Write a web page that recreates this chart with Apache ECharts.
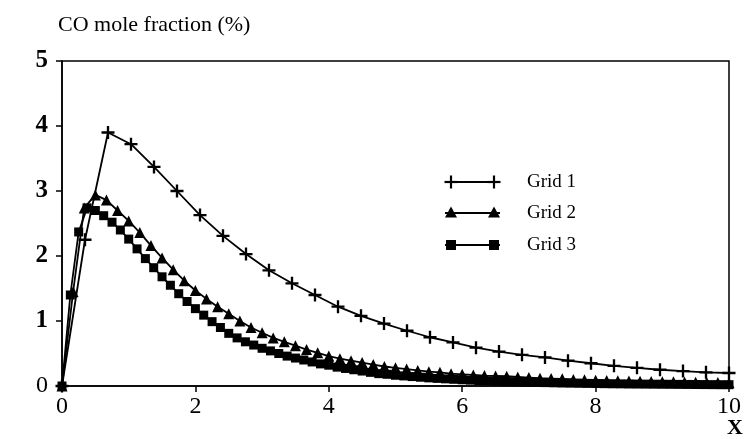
<!DOCTYPE html>
<html>
<head>
<meta charset="utf-8">
<script src="https://cdn.jsdelivr.net/npm/echarts@6/dist/echarts.min.js"></script>
<style>
html,body{margin:0;padding:0;background:#fff;}
#chart{width:744px;height:439px;}
</style>
</head>
<body>
<div id="chart"></div>
<script>
// ---- data ----
const seriesNames = ['Grid 1', 'Grid 2', 'Grid 3'];
const grid1Step = 10 / 29;
const grid2Step = 10 / 60;
const grid3Step = 10 / 80;
const grid1Values = [0, 2.25, 3.90, 3.72, 3.37, 3.00, 2.63, 2.31, 2.03, 1.78, 1.58, 1.40, 1.22, 1.08, 0.96,
  0.85, 0.75, 0.67, 0.59, 0.53, 0.48, 0.44, 0.39, 0.35, 0.31, 0.28, 0.25, 0.23, 0.21, 0.20];
const grid2Values = [0, 1.45, 2.74, 2.94, 2.86, 2.70, 2.54, 2.36, 2.16, 1.97, 1.79, 1.62, 1.47, 1.34, 1.22,
  1.11, 1.00, 0.90, 0.82, 0.74, 0.68, 0.62, 0.56, 0.51, 0.46, 0.42, 0.39, 0.36, 0.33, 0.30,
  0.28, 0.26, 0.24, 0.22, 0.21, 0.19, 0.18, 0.17, 0.16, 0.155, 0.15, 0.14, 0.13, 0.12, 0.115,
  0.11, 0.10, 0.095, 0.09, 0.085, 0.08, 0.077, 0.073, 0.07, 0.067, 0.064, 0.061, 0.058, 0.055, 0.052, 0.05];
const grid3Values = [0, 1.40, 2.37, 2.74, 2.70, 2.62, 2.52, 2.40, 2.26, 2.11, 1.96, 1.82, 1.68, 1.55, 1.42, 1.30, 1.19,
  1.09, 0.99, 0.90, 0.81, 0.74, 0.68, 0.63, 0.58, 0.54, 0.50, 0.46, 0.43, 0.40, 0.37, 0.34, 0.32,
  0.29, 0.27, 0.25, 0.23, 0.21, 0.19, 0.18, 0.165,
  0.155, 0.145, 0.135, 0.125, 0.117, 0.11, 0.103, 0.096, 0.09, 0.085, 0.08, 0.075, 0.07, 0.066, 0.062, 0.058,
  0.055, 0.052, 0.049, 0.046, 0.044, 0.042, 0.040, 0.038, 0.036, 0.034, 0.033, 0.031, 0.030, 0.029,
  0.028, 0.027, 0.026, 0.025, 0.024, 0.023, 0.022, 0.021, 0.020, 0.020];
const yTicks = [0, 1, 2, 3, 4, 5];
const xTicks = [0, 2, 4, 6, 8, 10];
const titleText = 'CO mole fraction (%)';
const xAxisName = 'X';

// ---- chart ----
const serif = "'Liberation Serif', 'DejaVu Serif', serif";
const plusPath = 'path://M4.1,0H5.9V4.1H10V5.9H5.9V10H4.1V5.9H0V4.1H4.1Z';
function pairs(vals, step) { return vals.map((v, i) => [i * step, v]); }

const chart = echarts.init(document.getElementById('chart'), null, {renderer: 'canvas'});

function legendItem(y, kind, label) {
  const els = [{
    type: 'line', shape: {x1: 445, y1: y, x2: 500, y2: y},
    style: {stroke: '#000', lineWidth: 1.8}
  }];
  [451, 494].forEach(cx => {
    if (kind === 'plus') {
      els.push({type: 'line', shape: {x1: cx - 6.5, y1: y, x2: cx + 6.5, y2: y}, style: {stroke: '#000', lineWidth: 2.2}});
      els.push({type: 'line', shape: {x1: cx, y1: y - 6.5, x2: cx, y2: y + 6.5}, style: {stroke: '#000', lineWidth: 2.2}});
    } else if (kind === 'tri') {
      els.push({type: 'polygon', shape: {points: [[cx, y - 6.5], [cx - 6, y + 4.5], [cx + 6, y + 4.5]]}, style: {fill: '#000'}});
    } else {
      els.push({type: 'rect', shape: {x: cx - 5, y: y - 5, width: 10, height: 10}, style: {fill: '#000'}});
    }
  });
  els.push({type: 'text', x: 527, y: y, style: {text: label, font: '19px ' + serif, fill: '#000', textVerticalAlign: 'middle'}});
  return els;
}

const option = {
  animation: false,
  backgroundColor: '#fff',
  title: {
    text: titleText, left: 53, top: 9,
    textStyle: {fontFamily: serif, fontSize: 22, fontWeight: 'normal', color: '#000'}
  },
  grid: {left: 62, right: 9, top: 61, bottom: 53, show: true, borderColor: '#000', borderWidth: 1.5, backgroundColor: 'transparent'},
  xAxis: {
    type: 'value', min: xTicks[0], max: xTicks[xTicks.length - 1], interval: 2,
    axisLine: {lineStyle: {color: '#000', width: 1.5}},
    axisTick: {show: true, inside: false, length: 6, lineStyle: {color: '#000', width: 1.5}},
    splitLine: {show: false},
    axisLabel: {color: '#000', fontFamily: serif, fontSize: 24, margin: 9}
  },
  yAxis: {
    type: 'value', min: yTicks[0], max: yTicks[yTicks.length - 1], interval: 1,
    axisLine: {show: true, lineStyle: {color: '#000', width: 1.5}},
    axisTick: {show: true, inside: false, length: 6, lineStyle: {color: '#000', width: 1.5}},
    splitLine: {show: false},
    axisLabel: {
      color: '#000', fontFamily: serif, fontSize: 25, fontWeight: 'bold', margin: 14,
      formatter: v => v === 0 ? '{n|0}' : String(v),
      rich: {n: {fontFamily: serif, fontSize: 24, fontWeight: 'normal', color: '#000'}}
    }
  },
  series: [
    {name: seriesNames[0], type: 'line', data: pairs(grid1Values, grid1Step), symbol: plusPath, symbolSize: 13,
     showSymbol: true, showAllSymbol: true, itemStyle: {color: '#000'}, lineStyle: {color: '#000', width: 1.8}, z: 3},
    {name: seriesNames[1], type: 'line', data: pairs(grid2Values, grid2Step), symbol: 'triangle', symbolSize: 11,
     showSymbol: true, showAllSymbol: true, itemStyle: {color: '#000'}, lineStyle: {color: '#000', width: 1.8}, z: 2},
    {name: seriesNames[2], type: 'line', data: pairs(grid3Values, grid3Step), symbol: 'rect', symbolSize: 9,
     showSymbol: true, showAllSymbol: true, itemStyle: {color: '#000'}, lineStyle: {color: '#000', width: 1.8}, z: 2}
  ],
  graphic: [
    ...legendItem(182, 'plus', seriesNames[0]),
    ...legendItem(213, 'tri', seriesNames[1]),
    ...legendItem(245, 'rect', seriesNames[2]),
    {type: 'text', x: 727, y: 428, style: {text: xAxisName, font: 'bold 22px ' + serif, fill: '#000', textVerticalAlign: 'middle'}}
  ]
};
chart.setOption(option);
</script>
</body>
</html>
